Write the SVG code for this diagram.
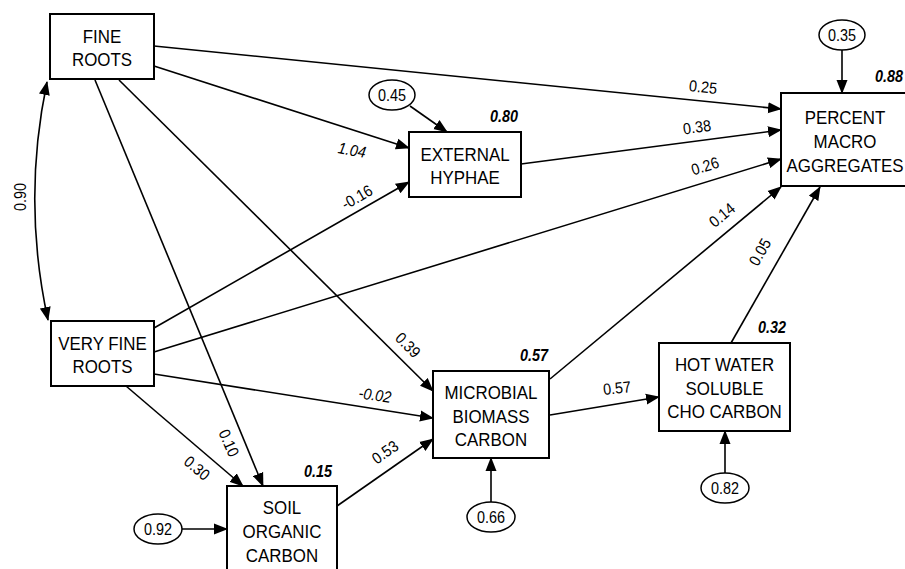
<svg xmlns="http://www.w3.org/2000/svg" width="905" height="569" viewBox="0 0 905 569">
<style>
.box{fill:#fff;stroke:#000;stroke-width:2}
.ell{fill:#fff;stroke:#000;stroke-width:1.5}
.nt{font-family:"Liberation Sans",Arial,sans-serif;font-size:19px;text-anchor:middle;fill:#000}
.lb{font-family:"Liberation Sans",Arial,sans-serif;font-size:16px;text-anchor:middle;fill:#000}
.r2{font-family:"Liberation Sans",Arial,sans-serif;font-size:16px;font-weight:bold;font-style:italic;text-anchor:end;fill:#000}
.it{font-style:italic}
.e{fill:none;stroke:#000;stroke-width:1.6;marker-end:url(#ah)}
</style>
<defs>
<marker id="ah" markerUnits="userSpaceOnUse" markerWidth="14" markerHeight="12" refX="13" refY="5.5" orient="auto-start-reverse" viewBox="0 0 14 11">
<path d="M0,0 L14,5.5 L0,11 z" fill="#000"/>
</marker>
</defs>
<rect width="905" height="569" fill="#fff"/>
<g id="connectors">
<path class="e" d="M154,46 L781,109"/>
<path class="e" d="M154,66 L409,148"/>
<path class="e" d="M154,328 L409,182"/>
<path class="e" d="M521,164 L781,130"/>
<path class="e" d="M154,352 L781,159"/>
<path class="e" d="M550,379 L781,187"/>
<path class="e" d="M731,343 L820,187"/>
<path class="e" d="M119,80 L433,391"/>
<path class="e" d="M95,80 L263,486"/>
<path class="e" d="M126,386 L243,486"/>
<path class="e" d="M154,374 L433,418"/>
<path class="e" d="M337,506 L433,439"/>
<path class="e" d="M550,415 L659,397"/>
<path class="e" d="M47,82 Q22,201 48,320" style="marker-start:url(#ah)"/>
<path class="e" d="M842,50 L842,93"/>
<path class="e" d="M410,106 L447,132"/>
<path class="e" d="M182,529 L227,529"/>
<path class="e" d="M491,502 L491,458"/>
<path class="e" d="M725,473 L725,431"/>
<g class="lb">
<text transform="translate(703,87) rotate(6) scale(0.9,1)" dy="0.35em">0.25</text>
<text class="it" transform="translate(352,150) rotate(10) scale(0.9,1)" dy="0.35em">1.04</text>
<text transform="translate(357,197) rotate(-30) scale(0.9,1)" dy="0.35em">-0.16</text>
<text transform="translate(697,127) rotate(-7.5) scale(0.9,1)" dy="0.35em">0.38</text>
<text transform="translate(705,166) rotate(-17) scale(0.9,1)" dy="0.35em">0.26</text>
<text transform="translate(722,215) rotate(-40) scale(0.9,1)" dy="0.35em">0.14</text>
<text transform="translate(760,252) rotate(-60) scale(0.9,1)" dy="0.35em">0.05</text>
<text transform="translate(408,345) rotate(45) scale(0.9,1)" dy="0.35em">0.39</text>
<text transform="translate(229,443) rotate(66) scale(0.9,1)" dy="0.35em">0.10</text>
<text transform="translate(197,468) rotate(40) scale(0.9,1)" dy="0.35em">0.30</text>
<text class="it" transform="translate(375,395) rotate(8) scale(0.9,1)" dy="0.35em">-0.02</text>
<text transform="translate(385,452) rotate(-35) scale(0.9,1)" dy="0.35em">0.53</text>
<text transform="translate(617,388) rotate(-6) scale(0.9,1)" dy="0.35em">0.57</text>
<text transform="translate(20,197) rotate(-90) scale(0.9,1)" dy="0.35em">0.90</text>
</g>
</g>
<g id="fine-roots">
<rect class="box" x="50" y="14" width="104" height="65"/>
<text class="nt" transform="translate(102,43) scale(0.89,1)">FINE</text>
<text class="nt" transform="translate(102,66) scale(0.89,1)">ROOTS</text>
</g>
<g id="very-fine-roots">
<rect class="box" x="51" y="321" width="103" height="65"/>
<text class="nt" transform="translate(102.5,350) scale(0.89,1)">VERY FINE</text>
<text class="nt" transform="translate(102.5,373) scale(0.89,1)">ROOTS</text>
</g>
<g id="external-hyphae">
<rect class="box" x="409" y="132" width="112" height="65"/>
<text class="nt" transform="translate(465,161) scale(0.89,1)">EXTERNAL</text>
<text class="nt" transform="translate(465,184) scale(0.89,1)">HYPHAE</text>
<text class="r2" transform="translate(518,122) scale(0.9,1)">0.80</text>
</g>
<g id="percent-macro-aggregates">
<rect class="box" x="781" y="93" width="130" height="93"/>
<text class="nt" transform="translate(845,124) scale(0.89,1)">PERCENT</text>
<text class="nt" transform="translate(845,148) scale(0.89,1)">MACRO</text>
<text class="nt" transform="translate(845,172) scale(0.89,1)">AGGREGATES</text>
<text class="r2" transform="translate(903,82) scale(0.9,1)">0.88</text>
</g>
<g id="microbial-biomass-carbon">
<rect class="box" x="433" y="371" width="116" height="87"/>
<text class="nt" transform="translate(491,399) scale(0.89,1)">MICROBIAL</text>
<text class="nt" transform="translate(491,423) scale(0.89,1)">BIOMASS</text>
<text class="nt" transform="translate(491,446) scale(0.89,1)">CARBON</text>
<text class="r2" transform="translate(548,361) scale(0.9,1)">0.57</text>
</g>
<g id="hot-water-soluble">
<rect class="box" x="659" y="343" width="131" height="88"/>
<text class="nt" transform="translate(724.5,371) scale(0.89,1)">HOT WATER</text>
<text class="nt" transform="translate(724.5,395) scale(0.89,1)">SOLUBLE</text>
<text class="nt" transform="translate(724.5,418) scale(0.89,1)">CHO CARBON</text>
<text class="r2" transform="translate(786,333) scale(0.9,1)">0.32</text>
</g>
<g id="soil-organic-carbon">
<rect class="box" x="227" y="486" width="110" height="95"/>
<text class="nt" transform="translate(282,514) scale(0.89,1)">SOIL</text>
<text class="nt" transform="translate(282,538) scale(0.89,1)">ORGANIC</text>
<text class="nt" transform="translate(282,562) scale(0.89,1)">CARBON</text>
<text class="r2" transform="translate(332,477) scale(0.9,1)">0.15</text>
</g>
<g id="err-pma">
<ellipse class="ell" cx="842" cy="35" rx="23" ry="15"/>
<text class="lb" transform="translate(842,41) scale(0.9,1)">0.35</text>
</g>
<g id="err-eh">
<ellipse class="ell" cx="392" cy="95" rx="23" ry="15"/>
<text class="lb" transform="translate(392,101) scale(0.9,1)">0.45</text>
</g>
<g id="err-soc">
<ellipse class="ell" cx="158" cy="529" rx="24" ry="15"/>
<text class="lb" transform="translate(158,535) scale(0.9,1)">0.92</text>
</g>
<g id="err-mbc">
<ellipse class="ell" cx="491" cy="517" rx="24" ry="15"/>
<text class="lb" transform="translate(491,523) scale(0.9,1)">0.66</text>
</g>
<g id="err-hws">
<ellipse class="ell" cx="725" cy="488" rx="24" ry="15"/>
<text class="lb" transform="translate(725,494) scale(0.9,1)">0.82</text>
</g>
</svg>
